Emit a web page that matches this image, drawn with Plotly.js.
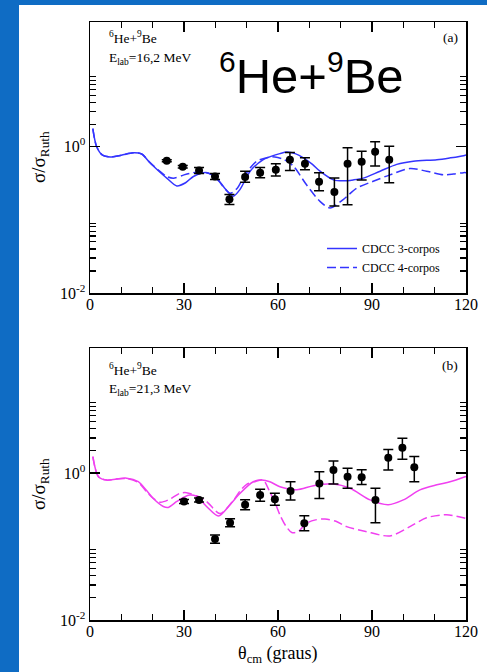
<!DOCTYPE html>
<html><head><meta charset="utf-8">
<script src="https://cdn.plot.ly/plotly-3.0.1.min.js"></script>
<style>html,body{margin:0;padding:0;background:#0f6cc4;} #chart{width:487px;height:672px;}</style>
</head><body><div id="chart"></div>
<script>
// ---------- Panel (a): 6He+9Be, Elab = 16.2 MeV ----------
const expThetaA = [24.5, 29.6, 34.8, 39.9, 44.5, 49.5, 54.3, 59.3, 63.8, 68.6, 73.1, 78.0, 82.2, 86.7, 91.0, 95.5];
const expSigmaA = [0.64, 0.53, 0.47, 0.39, 0.19, 0.385, 0.44, 0.48, 0.66, 0.58, 0.33, 0.24, 0.58, 0.62, 0.85, 0.66];
const expErrUpA = [0.02, 0.02, 0.047, 0.039, 0.032, 0.073, 0.075, 0.10, 0.17, 0.12, 0.108, 0.133, 0.38, 0.24, 0.31, 0.35];
const expErrDnA = [0.02, 0.02, 0.043, 0.035, 0.028, 0.061, 0.064, 0.083, 0.19, 0.10, 0.081, 0.086, 0.42, 0.27, 0.31, 0.34];

const cdcc3ThetaA = [0.9, 2.1, 4, 6.4, 10, 13.8, 16.5, 19.1, 22, 24.5, 27.7, 30.5, 33, 37.2, 40.4, 43, 45.7, 47.9, 51.1, 55.3, 58, 60.6, 62.8, 65.5, 68.1, 71, 73.4, 77.7, 80.9, 84, 87.2, 92.6, 97.9, 103.2, 110.7, 115, 119.2, 120];
const cdcc3SigmaA = [1.75, 1.0, 0.76, 0.72, 0.76, 0.82, 0.79, 0.60, 0.46, 0.37, 0.29, 0.32, 0.39, 0.44, 0.37, 0.27, 0.21, 0.26, 0.46, 0.66, 0.74, 0.80, 0.84, 0.80, 0.70, 0.57, 0.46, 0.35, 0.34, 0.35, 0.37, 0.46, 0.57, 0.63, 0.66, 0.70, 0.75, 0.77];

const cdcc4ThetaA = [0.9, 2.1, 4, 6.4, 10, 13.8, 16.5, 19.1, 22, 24.5, 26.6, 30, 33, 36, 38.5, 41, 44.7, 47, 49, 51.1, 53.2, 57.4, 59, 62, 64.9, 69.1, 73.4, 76.6, 80.9, 85.1, 90.4, 95.7, 102.1, 107.4, 112.8, 116, 119.2, 120];
const cdcc4SigmaA = [1.75, 1.0, 0.76, 0.72, 0.76, 0.82, 0.79, 0.61, 0.47, 0.39, 0.37, 0.41, 0.44, 0.45, 0.42, 0.34, 0.23, 0.27, 0.38, 0.51, 0.63, 0.72, 0.72, 0.66, 0.54, 0.30, 0.178, 0.145, 0.19, 0.27, 0.335, 0.41, 0.50, 0.46, 0.41, 0.42, 0.44, 0.44];

// ---------- Panel (b): 6He+9Be, Elab = 21.3 MeV ----------
const expThetaB = [30.0, 34.8, 39.9, 44.7, 49.5, 54.3, 59.0, 64.0, 68.4, 73.2, 77.7, 82.2, 86.7, 91.1, 95.2, 99.7, 103.5];
const expSigmaB = [0.41, 0.43, 0.126, 0.21, 0.37, 0.50, 0.44, 0.57, 0.207, 0.72, 1.10, 0.89, 0.875, 0.43, 1.61, 2.21, 1.20];
const expErrUpB = [0.025, 0.027, 0.017, 0.028, 0.063, 0.10, 0.09, 0.19, 0.055, 0.32, 0.36, 0.27, 0.23, 0.19, 0.48, 0.76, 0.47];
const expErrDnB = [0.025, 0.027, 0.015, 0.025, 0.054, 0.086, 0.075, 0.14, 0.043, 0.27, 0.39, 0.27, 0.18, 0.22, 0.51, 0.67, 0.44];

const cdcc3ThetaB = [0.9, 2.7, 5.3, 8.5, 11.7, 15.4, 18, 20.2, 23.4, 25, 27.7, 30, 31.9, 34, 37.2, 41, 44.7, 47.9, 52.1, 54.8, 57.4, 60.6, 66, 71.3, 77.7, 83, 89.4, 95.2, 100, 105.3, 110.7, 114.9, 119.7, 120];
const cdcc3SigmaB = [1.67, 0.89, 0.80, 0.83, 0.85, 0.76, 0.58, 0.45, 0.35, 0.34, 0.41, 0.47, 0.50, 0.48, 0.35, 0.26, 0.37, 0.53, 0.76, 0.80, 0.76, 0.65, 0.59, 0.67, 0.71, 0.62, 0.43, 0.37, 0.43, 0.59, 0.69, 0.76, 0.89, 0.90];

const cdcc4ThetaB = [0.9, 2.7, 5.3, 8.5, 11.7, 15.4, 18, 20.2, 22.5, 25, 28.7, 30.8, 34, 37.2, 41.5, 45.7, 47.9, 50, 53, 55.3, 57.4, 59, 60.6, 62.5, 64.4, 66.5, 69.1, 72, 75, 78.5, 81.9, 88, 95.7, 102.1, 107.4, 113.8, 119.7, 120];
const cdcc4SigmaB = [1.67, 0.89, 0.80, 0.83, 0.84, 0.74, 0.56, 0.45, 0.40, 0.43, 0.53, 0.54, 0.49, 0.41, 0.28, 0.42, 0.57, 0.70, 0.77, 0.80, 0.55, 0.40, 0.27, 0.19, 0.155, 0.16, 0.207, 0.23, 0.237, 0.22, 0.186, 0.16, 0.139, 0.186, 0.246, 0.27, 0.242, 0.24];

// ---------- Axis ticks ----------
const xTickVals = [0, 30, 60, 90, 120];
const yTickVals = [0.01, 1];
const yTickText = ['10<sup>-2</sup>', '10<sup>0</sup>'];
const yMinorVals = [0.02, 0.03, 0.04, 0.05, 0.06, 0.07, 0.08, 0.09, 2, 3, 4, 5, 6, 7, 8, 9];

// ---------- Layout helpers ----------
const W = 487, H = 672;
const px = x => x / W;
const py = y => 1 - y / H;

const BLUE = '#3434ff';
const MAGENTA = '#f040f0';
const SERIF = 'Liberation Serif, DejaVu Serif, serif';

function expTrace(x, y, up, dn, xa, ya) {
  return {
    x: x, y: y, xaxis: xa, yaxis: ya, type: 'scatter', mode: 'markers', showlegend: false,
    marker: {color: 'black', size: 8, symbol: 'circle'},
    error_y: {type: 'data', symmetric: false, array: up, arrayminus: dn, color: 'black', thickness: 1.5, width: 5}
  };
}
function curve(x, y, color, dash, name, xa, ya, show) {
  return {
    x: x, y: y, xaxis: xa, yaxis: ya, type: 'scatter', mode: 'lines', name: name, showlegend: show,
    line: {color: color, width: 1.5, dash: dash, shape: 'spline', smoothing: 0.8}
  };
}

const DASH = '9px,4px';
const data = [
  curve(cdcc3ThetaA, cdcc3SigmaA, BLUE, 'solid', 'CDCC 3-corpos', 'x', 'y', true),
  curve(cdcc4ThetaA, cdcc4SigmaA, BLUE, DASH, 'CDCC 4-corpos', 'x', 'y', true),
  expTrace(expThetaA, expSigmaA, expErrUpA, expErrDnA, 'x', 'y'),
  curve(cdcc3ThetaB, cdcc3SigmaB, MAGENTA, 'solid', 'CDCC 3-corpos', 'x2', 'y2', false),
  curve(cdcc4ThetaB, cdcc4SigmaB, MAGENTA, DASH, 'CDCC 4-corpos', 'x2', 'y2', false),
  expTrace(expThetaB, expSigmaB, expErrUpB, expErrDnB, 'x2', 'y2')
];

function xAxis(anchor) {
  return {
    anchor: anchor, domain: [px(90), px(466)], range: [0, 120],
    tickmode: 'array', tickvals: xTickVals, ticks: 'inside', ticklen: 10, tickwidth: 1.2, tickcolor: 'black',
    minor: {dtick: 10, tick0: 0, ticks: 'inside', ticklen: 6, tickwidth: 1.2, tickcolor: 'black'},
    showline: true, linecolor: 'black', linewidth: 1.5, mirror: 'ticks',
    showgrid: false, zeroline: false, ticklabelstandoff: -4,
    tickfont: {family: SERIF, size: 16, color: 'black'}
  };
}
function yAxis(anchor, top, bottom) {
  return {
    anchor: anchor, type: 'log', domain: [py(bottom), py(top)], range: [-2, 1.7],
    tickmode: 'array', tickvals: yTickVals, ticktext: yTickText, ticks: 'inside', ticklen: 10, tickwidth: 1.2, tickcolor: 'black',
    minor: {tickmode: 'array', tickvals: yMinorVals, ticks: 'inside', ticklen: 6, tickwidth: 1.2, tickcolor: 'black'},
    showline: true, linecolor: 'black', linewidth: 1.5, mirror: 'ticks',
    showgrid: false, zeroline: false,
    tickfont: {family: SERIF, size: 16, color: 'black'}
  };
}

const annFont = {family: SERIF, size: 13.5, color: 'black'};
const annotations = [
  // panel (a)
  {xref: 'paper', yref: 'paper', x: px(107), y: py(37), xanchor: 'left', yanchor: 'middle', align: 'left', showarrow: false,
   text: '<sup>6</sup>He+<sup>9</sup>Be', font: annFont},
  {xref: 'paper', yref: 'paper', x: px(107), y: py(58), xanchor: 'left', yanchor: 'middle', align: 'left', showarrow: false,
   text: 'E<sub>lab</sub>=16,2 MeV', font: annFont},
  {xref: 'paper', yref: 'paper', x: px(460), y: py(37), xanchor: 'right', yanchor: 'middle', showarrow: false,
   text: '(a)', font: annFont},
  {xref: 'paper', yref: 'paper', x: px(311), y: py(74), xanchor: 'center', yanchor: 'middle', showarrow: false,
   text: '<sup><span style="font-size:30px">6</span></sup>He+<sup><span style="font-size:30px">9</span></sup>Be',
   font: {family: 'Liberation Sans, Arial, sans-serif', size: 49, color: 'black'}},
  // panel (b)
  {xref: 'paper', yref: 'paper', x: px(107), y: py(369), xanchor: 'left', yanchor: 'middle', align: 'left', showarrow: false,
   text: '<sup>6</sup>He+<sup>9</sup>Be', font: annFont},
  {xref: 'paper', yref: 'paper', x: px(107), y: py(389), xanchor: 'left', yanchor: 'middle', align: 'left', showarrow: false,
   text: 'E<sub>lab</sub>=21,3 MeV', font: annFont},
  {xref: 'paper', yref: 'paper', x: px(460), y: py(366), xanchor: 'right', yanchor: 'middle', showarrow: false,
   text: '(b)', font: annFont},
  // axis titles
  {xref: 'paper', yref: 'paper', x: px(40), y: py(157), xanchor: 'center', yanchor: 'middle', textangle: -90, showarrow: false,
   text: 'σ/σ<sub>Ruth</sub>', font: {family: SERIF, size: 19, color: 'black'}},
  {xref: 'paper', yref: 'paper', x: px(40), y: py(484), xanchor: 'center', yanchor: 'middle', textangle: -90, showarrow: false,
   text: 'σ/σ<sub>Ruth</sub>', font: {family: SERIF, size: 19, color: 'black'}},
  {xref: 'paper', yref: 'paper', x: px(278), y: py(654), xanchor: 'center', yanchor: 'middle', showarrow: false,
   text: 'θ<sub>cm</sub> (graus)', font: {family: SERIF, size: 18, color: 'black'}}
];

const layout = {
  width: W, height: H,
  margin: {l: 0, r: 0, t: 0, b: 0},
  paper_bgcolor: '#0f6cc4',
  plot_bgcolor: 'white',
  showlegend: true,
  legend: {x: px(322), y: py(234), xanchor: 'left', yanchor: 'top', bgcolor: 'rgba(0,0,0,0)',
           font: {family: SERIF, size: 12, color: 'black'}, tracegroupgap: 0, itemwidth: 30},
  xaxis: xAxis('y'),
  yaxis: yAxis('x', 22, 293),
  xaxis2: xAxis('y2'),
  yaxis2: yAxis('x2', 348, 620),
  shapes: [
    {type: 'rect', xref: 'paper', yref: 'paper', x0: px(19), x1: 1, y0: 0, y1: py(5),
     fillcolor: 'white', line: {width: 0}, layer: 'below'}
  ],
  annotations: annotations
};

Plotly.newPlot('chart', data, layout, {displayModeBar: false, staticPlot: true});
</script></body></html>
